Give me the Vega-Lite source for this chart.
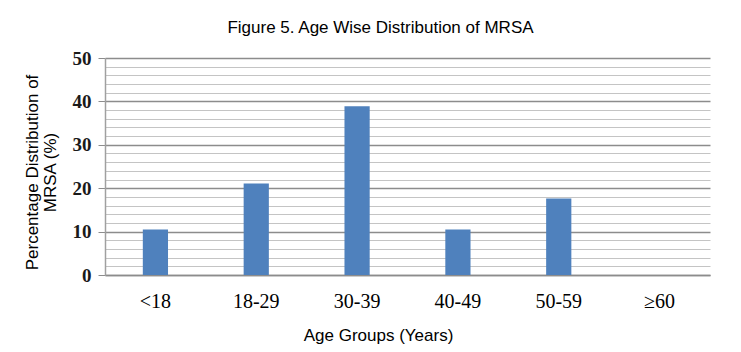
{
  "$schema": "https://vega.github.io/schema/vega-lite/v6.json",
  "width": 605,
  "height": 217,
  "autosize": {"type": "none"},
  "padding": {"left": 105, "top": 58, "right": 31, "bottom": 77},
  "background": "white",
  "title": {
    "text": "Figure 5. Age Wise Distribution of MRSA",
    "font": "Liberation Sans",
    "fontSize": 17,
    "fontWeight": "normal",
    "color": "#000000",
    "anchor": "middle",
    "frame": "group",
    "dx": -27,
    "offset": 12
  },
  "data": {
    "values": [
      {"age": "<18", "pct": 10.5},
      {"age": "18-29", "pct": 21.1},
      {"age": "30-39", "pct": 38.9},
      {"age": "40-49", "pct": 10.5},
      {"age": "50-59", "pct": 17.6},
      {"age": "≥60", "pct": 0}
    ]
  },
  "config": {"view": {"stroke": null}},
  "mark": {"type": "bar", "color": "#4f81bd"},
  "encoding": {
    "x": {
      "field": "age",
      "type": "nominal",
      "sort": null,
      "scale": {"paddingInner": 0.75, "paddingOuter": 0.375},
      "axis": {
        "title": "Age Groups (Years)",
        "titleFont": "Liberation Sans",
        "titleFontSize": 17,
        "titleFontWeight": "normal",
        "titleColor": "#000000",
        "titleX": 273,
        "titleY": 65,
        "titleAlign": "center",
        "titleBaseline": "alphabetic",
        "labelFont": "Liberation Serif",
        "labelFontSize": 20,
        "labelColor": "#000000",
        "labelAngle": 0,
        "labelPadding": 16,
        "ticks": false,
        "domainColor": "#8c8c8c",
        "domainWidth": 1.5
      }
    },
    "y": {
      "field": "pct",
      "type": "quantitative",
      "scale": {"domain": [0, 50], "nice": false},
      "axis": {
        "title": ["Percentage Distribution of", "MRSA (%)"],
        "titleFont": "Liberation Sans",
        "titleFontSize": 17,
        "titleFontWeight": "normal",
        "titleColor": "#000000",
        "titlePadding": 13,
        "titleLineHeight": 18,
        "titleY": 114,
        "titleAlign": "center",
        "values": [0, 2, 4, 6, 8, 10, 12, 14, 16, 18, 20, 22, 24, 26, 28, 30, 32, 34, 36, 38, 40, 42, 44, 46, 48, 50],
        "labelExpr": "datum.value % 10 === 0 ? datum.label : ''",
        "labelFont": "Liberation Serif",
        "labelFontSize": 19,
        "labelFontWeight": "bold",
        "labelColor": "#1a1a1a",
        "labelPadding": 7,
        "tickSize": 7,
        "tickColor": "#8c8c8c",
        "tickOpacity": {"condition": {"test": "datum.value % 10 === 0", "value": 1}, "value": 0},
        "domainColor": "#a0a0a0",
        "domainWidth": 1.5,
        "grid": true,
        "gridColor": {"condition": {"test": "datum.value % 10 === 0", "value": "#8c8c8c"}, "value": "#c4c4c4"},
        "gridWidth": {"condition": {"test": "datum.value % 10 === 0", "value": 1.5}, "value": 1.2}
      }
    }
  }
}
